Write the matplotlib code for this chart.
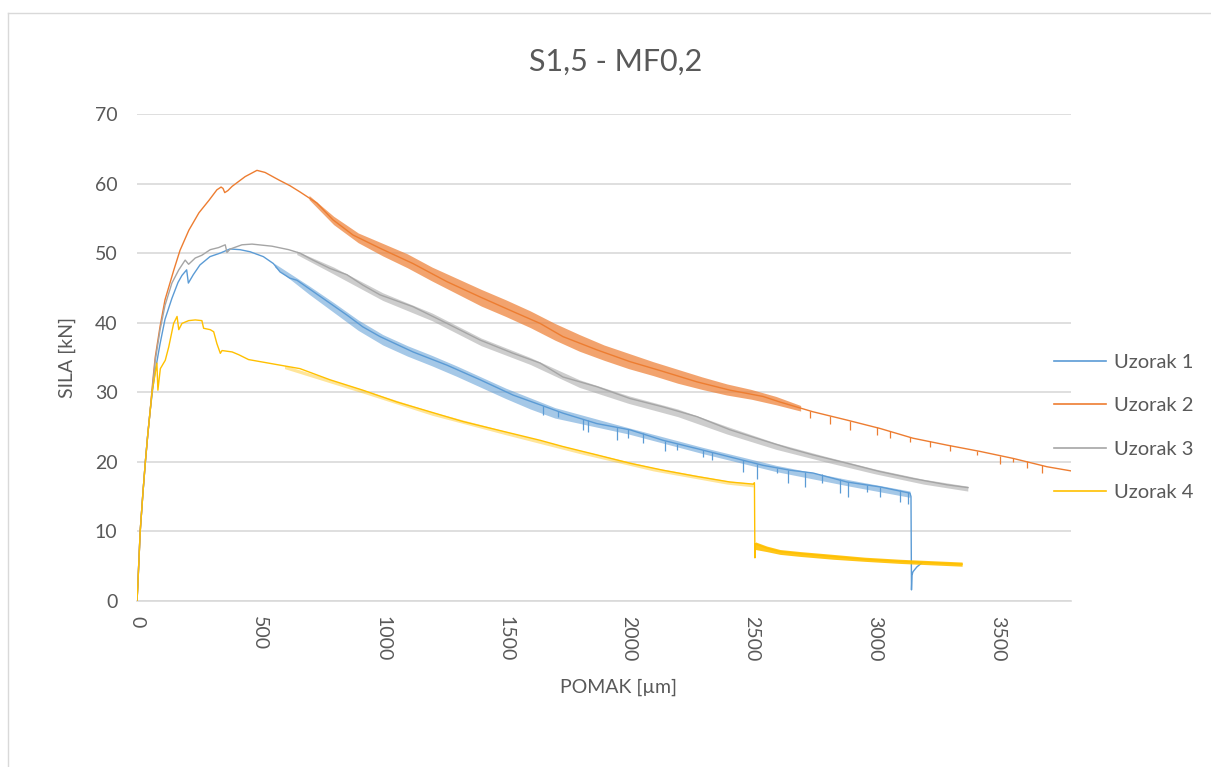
import matplotlib
matplotlib.use("Agg")
import matplotlib.pyplot as plt
from matplotlib.lines import Line2D

# ---------------- data ----------------
title = "S1,5 - MF0,2"
x_label = "POMAK [µm]"
y_label = "SILA [kN]"
series_names = ["Uzorak 1", "Uzorak 2", "Uzorak 3", "Uzorak 4"]
x_ticks = [0, 500, 1000, 1500, 2000, 2500, 3000, 3500]
y_ticks = [0, 10, 20, 30, 40, 50, 60, 70]

# Uzorak 1 (blue)
u1_x = [0, 3, 13, 24, 34, 44, 54, 64, 74, 94, 114, 142, 167, 183, 202, 209, 229, 256,
        297, 338, 378, 419, 460, 514, 555, 582, 622, 651, 716, 785, 854, 919, 989, 1123,
        1261, 1396, 1530, 1640, 1733, 1871, 2006, 2140, 2278, 2413, 2547, 2657, 2750,
        2889, 3023, 3145, 3149, 3151, 3153, 3157, 3173, 3194]
u1_y = [0, 2, 10, 15.5, 20, 24, 27.5, 30.5, 33, 37, 40.5, 43.5, 45.8, 46.8, 47.6, 45.7,
        46.9, 48.3, 49.5, 50.0, 50.6, 50.5, 50.2, 49.5, 48.5, 47.3, 46.4, 46.1, 44.5, 42.8,
        41.1, 39.4, 38.0, 35.8, 33.9, 31.8, 29.6, 28.2, 27.0, 25.5, 24.6, 23.1, 21.9, 20.7,
        19.5, 18.8, 18.4, 17.1, 16.4, 15.5, 15.0, 1.6, 3.7, 4.2, 4.9, 5.5]

# Uzorak 2 (orange)
u2_x = [0, 3, 13, 24, 34, 44, 54, 64, 74, 94, 114, 150, 175, 211, 252, 293, 325, 342,
        350, 357, 370, 387, 440, 488, 521, 578, 622, 663, 732, 797, 879, 989, 1123, 1261,
        1396, 1530, 1640, 1733, 1871, 2006, 2140, 2278, 2413, 2547, 2616, 2750, 2889,
        3023, 3157, 3296, 3430, 3564, 3702, 3800]
u2_y = [0, 2, 10, 15.5, 20, 24, 27.5, 31.5, 35, 39.5, 43.3, 47.6, 50.4, 53.3, 55.8, 57.6,
        59.1, 59.5, 59.3, 58.7, 59.0, 59.6, 61.0, 61.9, 61.6, 60.5, 59.7, 58.8, 57.2, 54.8,
        52.6, 50.7, 48.5, 45.9, 43.7, 41.6, 39.9, 38.0, 36.1, 34.4, 33.0, 31.5, 30.3, 29.4,
        28.6, 27.2, 26.0, 24.8, 23.4, 22.4, 21.5, 20.5, 19.3, 18.7]

# Uzorak 3 (grey)
u3_x = [0, 3, 13, 24, 34, 44, 54, 64, 74, 94, 114, 142, 170, 196, 210, 237, 264, 298,
        332, 359, 366, 380, 427, 468, 549, 617, 663, 716, 785, 854, 919, 989, 1123, 1261,
        1396, 1530, 1640, 1733, 1871, 2006, 2140, 2278, 2413, 2547, 2657, 2750, 2889,
        3023, 3157, 3296, 3381]
u3_y = [0, 2, 10, 15.5, 20, 24, 27.5, 31, 34.5, 39, 42.5, 45.7, 47.6, 49.0, 48.4, 49.3,
        49.7, 50.5, 50.8, 51.2, 50.1, 50.6, 51.2, 51.3, 51.0, 50.5, 50.0, 49.0, 47.8, 46.9,
        45.4, 44.0, 42.3, 39.9, 37.5, 35.6, 34.2, 32.2, 30.8, 29.1, 27.9, 26.5, 24.6, 23.1,
        21.9, 21.0, 19.8, 18.6, 17.6, 16.7, 16.3]

# Uzorak 4 (yellow)
u4_x = [0, 3, 13, 24, 34, 44, 54, 61, 73, 81, 85, 95, 115, 129, 149, 163, 170, 183, 210,
        237, 264, 271, 298, 312, 325, 339, 346, 387, 414, 454, 582, 663, 785, 919, 1058,
        1192, 1326, 1465, 1640, 1733, 1871, 2006, 2140, 2278, 2413, 2507, 2512, 2514,
        2516, 2562, 2616, 2700, 2832, 2960, 3104, 3230, 3357]
u4_y = [0, 2, 10, 15.5, 20, 24, 27.5, 30, 32.5, 34.2, 30.3, 33.4, 34.6, 36.5, 39.9, 40.9,
        39.0, 39.9, 40.3, 40.4, 40.3, 39.2, 39.0, 38.7, 37.0, 35.6, 36.0, 35.8, 35.4, 34.7,
        33.9, 33.4, 31.8, 30.3, 28.6, 27.2, 25.8, 24.6, 23.1, 22.2, 21.0, 19.8, 18.8, 17.9,
        17.1, 16.8, 17.0, 6.2, 8.2, 7.6, 7.1, 6.8, 6.4, 6.0, 5.7, 5.5, 5.3]

# oscillation envelopes (lower / upper edges)
u1_band_x = [560, 700, 800, 900, 1000, 1100, 1200, 1300, 1400, 1500, 1600, 1700,
             2000, 2300, 2600, 2900, 3145]
u1_band_lo = [48.0, 44.1, 41.5, 38.9, 36.8, 35.2, 33.8, 32.3, 30.7, 29.1, 27.6, 26.3,
              24.0, 21.2, 18.6, 16.5, 14.9]
u1_band_hi = [48.5, 45.3, 42.9, 40.4, 38.3, 36.7, 35.3, 33.8, 32.2, 30.6, 29.2, 27.8,
              24.9, 22.1, 19.5, 17.4, 15.8]

u2_band_x = [700, 800, 900, 1000, 1100, 1200, 1300, 1400, 1500, 1600, 1700, 1800, 1900,
             2000, 2100, 2200, 2300, 2400, 2500, 2600, 2700]
u2_band_lo = [57.7, 54.1, 51.5, 49.6, 47.9, 46.0, 44.2, 42.4, 40.9, 39.3, 37.5, 35.9,
              34.6, 33.4, 32.4, 31.3, 30.4, 29.6, 29.0, 28.2, 27.3]
u2_band_hi = [58.3, 55.3, 52.9, 51.4, 49.9, 48.0, 46.4, 44.8, 43.3, 41.7, 39.9, 38.3,
              36.8, 35.6, 34.4, 33.3, 32.2, 31.2, 30.4, 29.4, 28.1]

u3_band_x = [650, 800, 1000, 1200, 1400, 1600, 1800, 2000, 2200, 2400, 2600, 2800, 3000,
             3200, 3380]
u3_band_lo = [49.8, 47.0, 43.2, 40.3, 36.7, 34.0, 30.7, 28.4, 26.5, 24.0, 21.8, 20.0,
              18.3, 16.8, 15.8]
u3_band_hi = [50.3, 48.0, 44.3, 41.4, 37.8, 35.0, 31.8, 29.5, 27.6, 25.1, 22.7, 20.8,
              19.0, 17.5, 16.5]

u4_band_x = [600, 900, 1200, 1500, 1800, 2100, 2400, 2507]
u4_band_lo = [33.4, 30.1, 26.7, 23.9, 21.2, 18.7, 16.8, 16.4]
u4_band_hi = [33.9, 30.6, 27.2, 24.4, 21.7, 19.2, 17.3, 16.9]

u4_band2_x = [2516, 2562, 2616, 2700, 2832, 2960, 3104, 3230, 3357]
u4_band2_lo = [7.4, 7.1, 6.7, 6.4, 6.0, 5.7, 5.4, 5.2, 5.0]
u4_band2_hi = [8.5, 7.9, 7.4, 7.1, 6.7, 6.3, 6.0, 5.8, 5.6]

# sharp downward spikes (x, bottom, top)
u1_spike_x = [1653, 1714, 1816, 1836, 1952, 1999, 2060, 2148, 2196, 2304, 2338, 2467,
              2521, 2603, 2650, 2719, 2786, 2861, 2894, 2969, 3023, 3104, 3138]
u1_spike_lo = [26.7, 26.5, 24.6, 24.3, 23.1, 23.4, 22.7, 21.5, 21.7, 20.7, 20.3, 18.6,
               17.6, 18.4, 16.9, 16.4, 16.9, 15.5, 15.0, 15.7, 15.0, 14.3, 14.0]
u1_spike_hi = [28.1, 27.3, 26.2, 26.0, 25.0, 24.7, 24.1, 23.0, 22.6, 21.7, 21.4, 20.2,
               19.7, 19.1, 18.8, 18.6, 18.2, 17.5, 17.1, 16.7, 16.4, 16.0, 15.6]

u2_spike_x = [2738, 2819, 2901, 3011, 3064, 3145, 3226, 3308, 3418, 3511, 3564, 3621, 3682]
u2_spike_lo = [26.3, 25.5, 24.6, 23.9, 23.4, 22.9, 22.2, 21.5, 21.0, 19.7, 20.0, 19.1, 18.4]
u2_spike_hi = [27.3, 26.6, 25.9, 25.0, 24.5, 23.6, 23.0, 22.4, 21.6, 20.8, 20.5, 20.1, 19.5]

# ---------------- styling ----------------
colors = ["#5B9BD5", "#ED7D31", "#A5A5A5", "#FFC000"]
text_color = "#595959"
grid_color = "#D9D9D9"
plt.rcParams["font.family"] = ["Lato", "DejaVu Sans"]

W, H = 1211, 767
fig = plt.figure(figsize=(W / 100, H / 100), dpi=100)
fig.patch.set_facecolor("white")

# chart frame
fig.add_artist(Line2D([8 / W, 1.0], [1 - 13 / H, 1 - 13 / H], color=grid_color, lw=1.0))
fig.add_artist(Line2D([8 / W, 8 / W], [1 - 13 / H, 0.0], color=grid_color, lw=1.0))

left, right, top, bottom = 137, 1071, 114, 601
ax = fig.add_axes([left / W, 1 - bottom / H, (right - left) / W, (bottom - top) / H])

xs = [u1_x, u2_x, u3_x, u4_x]
ys = [u1_y, u2_y, u3_y, u4_y]

bands = [
    (0, u1_band_x, u1_band_lo, u1_band_hi, 0.55),
    (1, u2_band_x, u2_band_lo, u2_band_hi, 0.7),
    (2, u3_band_x, u3_band_lo, u3_band_hi, 0.55),
    (3, u4_band_x, u4_band_lo, u4_band_hi, 0.4),
    (3, u4_band2_x, u4_band2_lo, u4_band2_hi, 0.9),
]
spikes = [
    (0, u1_spike_x, u1_spike_lo, u1_spike_hi),
    (1, u2_spike_x, u2_spike_lo, u2_spike_hi),
]

for i in range(4):
    z = 2 + i
    for (si, bx, blo, bhi, a) in bands:
        if si == i:
            ax.fill_between(bx, blo, bhi, color=colors[i], alpha=a, lw=0, zorder=z)
    for (si, sx, slo, shi) in spikes:
        if si == i:
            ax.vlines(sx, slo, shi, color=colors[i], lw=0.9, zorder=z)
    ax.plot(xs[i], ys[i], color=colors[i], lw=1.0, label=series_names[i], zorder=z)

ax.set_xlim(0, 3800)
ax.set_ylim(0, 70)
ax.set_xticks(x_ticks)
ax.set_yticks(y_ticks)
ax.set_xticklabels([str(t) for t in x_ticks], rotation=-90)
ax.tick_params(axis="both", length=0, labelsize=14, labelcolor=text_color)
ax.tick_params(axis="y", pad=14)
ax.tick_params(axis="x", pad=11)

for s in ["top", "right", "left"]:
    ax.spines[s].set_visible(False)
ax.spines["bottom"].set_color(grid_color)
ax.spines["bottom"].set_linewidth(1.2)
ax.yaxis.grid(True, color=grid_color, lw=1.2)
ax.set_axisbelow(True)

ax.set_xlabel(x_label, fontsize=14, color=text_color)
ax.set_ylabel(y_label, fontsize=14, color=text_color)
ax.xaxis.set_label_coords((619 - left) / (right - left), -(679 - bottom) / (bottom - top))
ax.yaxis.set_label_coords(-(137 - 76) / (right - left), 0.5)

fig.text(616 / W, 1 - 62 / H, title, ha="center", va="center", fontsize=22,
         fontweight="normal", color=text_color)

handles = [Line2D([0], [0], color=c, lw=1.2) for c in colors]
leg = ax.legend(handles, series_names, loc="center left",
                bbox_to_anchor=(1054 / W, 1 - 427.5 / H), bbox_transform=fig.transFigure,
                frameon=False, fontsize=14.5, labelspacing=1.3, handlelength=2.6,
                handletextpad=0.4, borderpad=0, borderaxespad=0)
for t in leg.get_texts():
    t.set_color(text_color)

fig.savefig("out.png", dpi=100, facecolor="white")
